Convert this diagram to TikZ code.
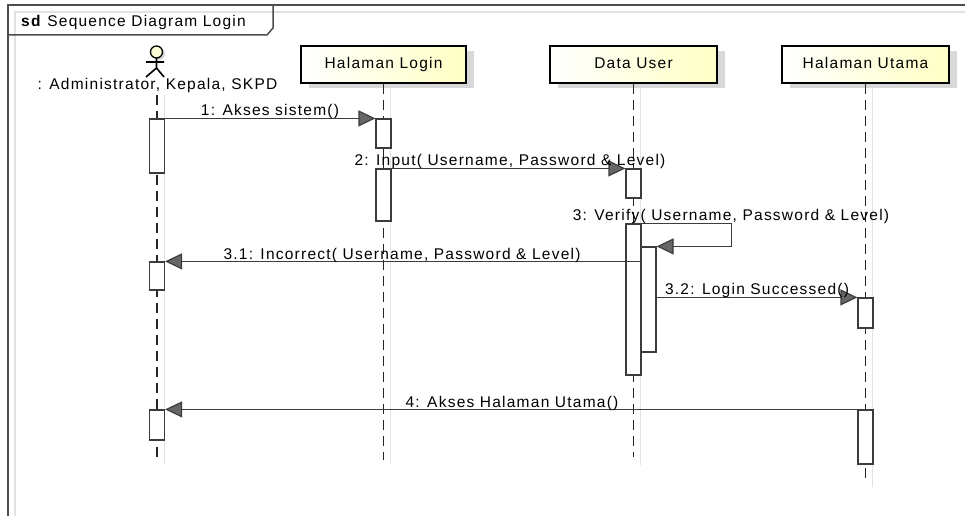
\documentclass[tikz,border=0pt]{standalone}
\usepackage{fontspec}
\setmainfont{Liberation Sans}[LetterSpace=8]
\usetikzlibrary{arrows.meta}
\definecolor{boxyel}{RGB}{255,255,196}
\definecolor{shadowgray}{RGB}{216,216,216}
\definecolor{lifegray}{RGB}{226,226,226}
\definecolor{linegray}{RGB}{60,60,60}
\definecolor{headyel}{RGB}{255,255,215}
\tikzset{
  hdr/.style={draw=black, line width=2pt, left color=white, right color=boxyel,
    minimum width=165pt, minimum height=37pt, inner sep=0pt,
    text height=11pt, text depth=3pt, font=\fontsize{15.5}{17}\selectfont},
  act/.style={draw=linegray, line width=1.2pt, fill=white, minimum width=15pt, inner sep=0pt},
  life/.style={line width=1.5pt, dash pattern=on 10pt off 6pt, draw=black!85},
  lifeshadow/.style={line width=1.5pt, draw=lifegray},
  msg/.style={line width=1.2pt, draw=linegray, -{Triangle[length=17pt,width=16pt,fill=black!60]}},
  lbl/.style={anchor=base, inner sep=0pt, font=\fontsize{15.5}{17}\selectfont},
  frameline/.style={line width=1.5pt, draw=black!70},
}
\begin{document}
\begin{tikzpicture}[x=1pt,y=-1pt]
\useasboundingbox (0,0) rectangle (965,516);
% frame
\draw[line width=1.5pt, draw=lifegray] (15,516) -- (15,12) -- (965,12);
\draw[frameline] (8,516) -- (8,5) -- (965,5);
\draw[frameline] (8,35) -- (267,35) -- (273,28) -- (273,5);
\node[lbl, anchor=base west] (title) at (21,27) {\textbf{sd} Sequence Diagram Login};

% header shadows
\fill[shadowgray] (309,51) rectangle (474,88);
\fill[shadowgray] (558,51) rectangle (725,88);
\fill[shadowgray] (790,51) rectangle (957,88);

% lifeline shadows
\draw[lifeshadow] (164.5,95) -- (164.5,464);
\draw[lifeshadow] (390.5,88) -- (390.5,464);
\draw[lifeshadow] (640.5,88) -- (640.5,465);
\draw[lifeshadow] (872.5,88) -- (872.5,487);

% actor
\fill[shadowgray] (159,54) circle (6pt);
\draw[line width=1.3pt, fill=headyel] (156.5,52) circle (6pt);
\draw[line width=1.6pt] (156.5,58) -- (156.5,68)
  (146,62) -- (164,62)
  (156.5,68) -- (146,77) (156.5,68) -- (164,77);
\node[lbl] (actlbl) at (157.5,90) {: Administrator, Kepala, SKPD};

% headers
\node[hdr] (hl) at (383.5,64.5) {Halaman Login};
\node[hdr, minimum width=167pt] (du) at (633.5,64.5) {Data User};
\node[hdr, minimum width=167pt] (hu) at (865.5,64.5) {Halaman Utama};

% lifeline ends
\coordinate (aTop) at (157,95);
\coordinate (aEnd) at (157,460);
\coordinate (lEnd) at (383.5,460);
\coordinate (dEnd) at (633.5,457);
\coordinate (uEnd) at (865.5,479);
\draw[life] (aTop) -- (aEnd);
\draw[life] (hl.south) -- (lEnd);
\draw[life] (du.south) -- (dEnd);
\draw[life] (hu.south) -- (uEnd);

% activations
\node[act, minimum height=54pt] (a1) at (157,146) {};
\node[act, minimum height=28pt] (a2) at (157,276) {};
\node[act, minimum height=30pt] (a3) at (157,425) {};
\node[act, minimum height=29pt] (l1) at (383.5,133.5) {};
\node[act, minimum height=52pt] (l2) at (383.5,195) {};
\node[act, minimum height=29pt] (d1) at (633.5,183.5) {};
\node[act, minimum height=151pt] (d2) at (633.5,299.5) {};
\node[act, minimum height=105pt] (d3) at (648.5,299.5) {};
\node[act, minimum height=30pt] (u1) at (865.5,313) {};
\node[act, minimum height=54pt] (u2) at (865.5,437) {};

% messages
\draw[msg] (a1.north east) -- (l1.north west);
\draw[msg] (l2.north east) -- (d1.north west);
\draw[msg] (d2.north east) -- ++(90,0) |- (d3.north east);
\draw[msg] (d3.west |- a2.north) -- (a2.north east);
\draw[msg] (d3.east |- u1.north) -- (u1.north west);
\draw[msg] (u2.north west) -- (a3.north east);

% labels
\node[lbl] (m1) at (270,116) {1: Akses sistem()};
\node[lbl] (m2) at (510,165) {2: Input( Username, Password \& Level)};
\node[lbl] (m3) at (731,220) {3: Verify( Username, Password \& Level)};
\node[lbl] (m31) at (402,259) {3.1: Incorrect( Username, Password \& Level)};
\node[lbl] (m32) at (757,294) {3.2: Login Successed()};
\node[lbl] (m4) at (512,407) {4: Akses Halaman Utama()};
\end{tikzpicture}
\end{document}
